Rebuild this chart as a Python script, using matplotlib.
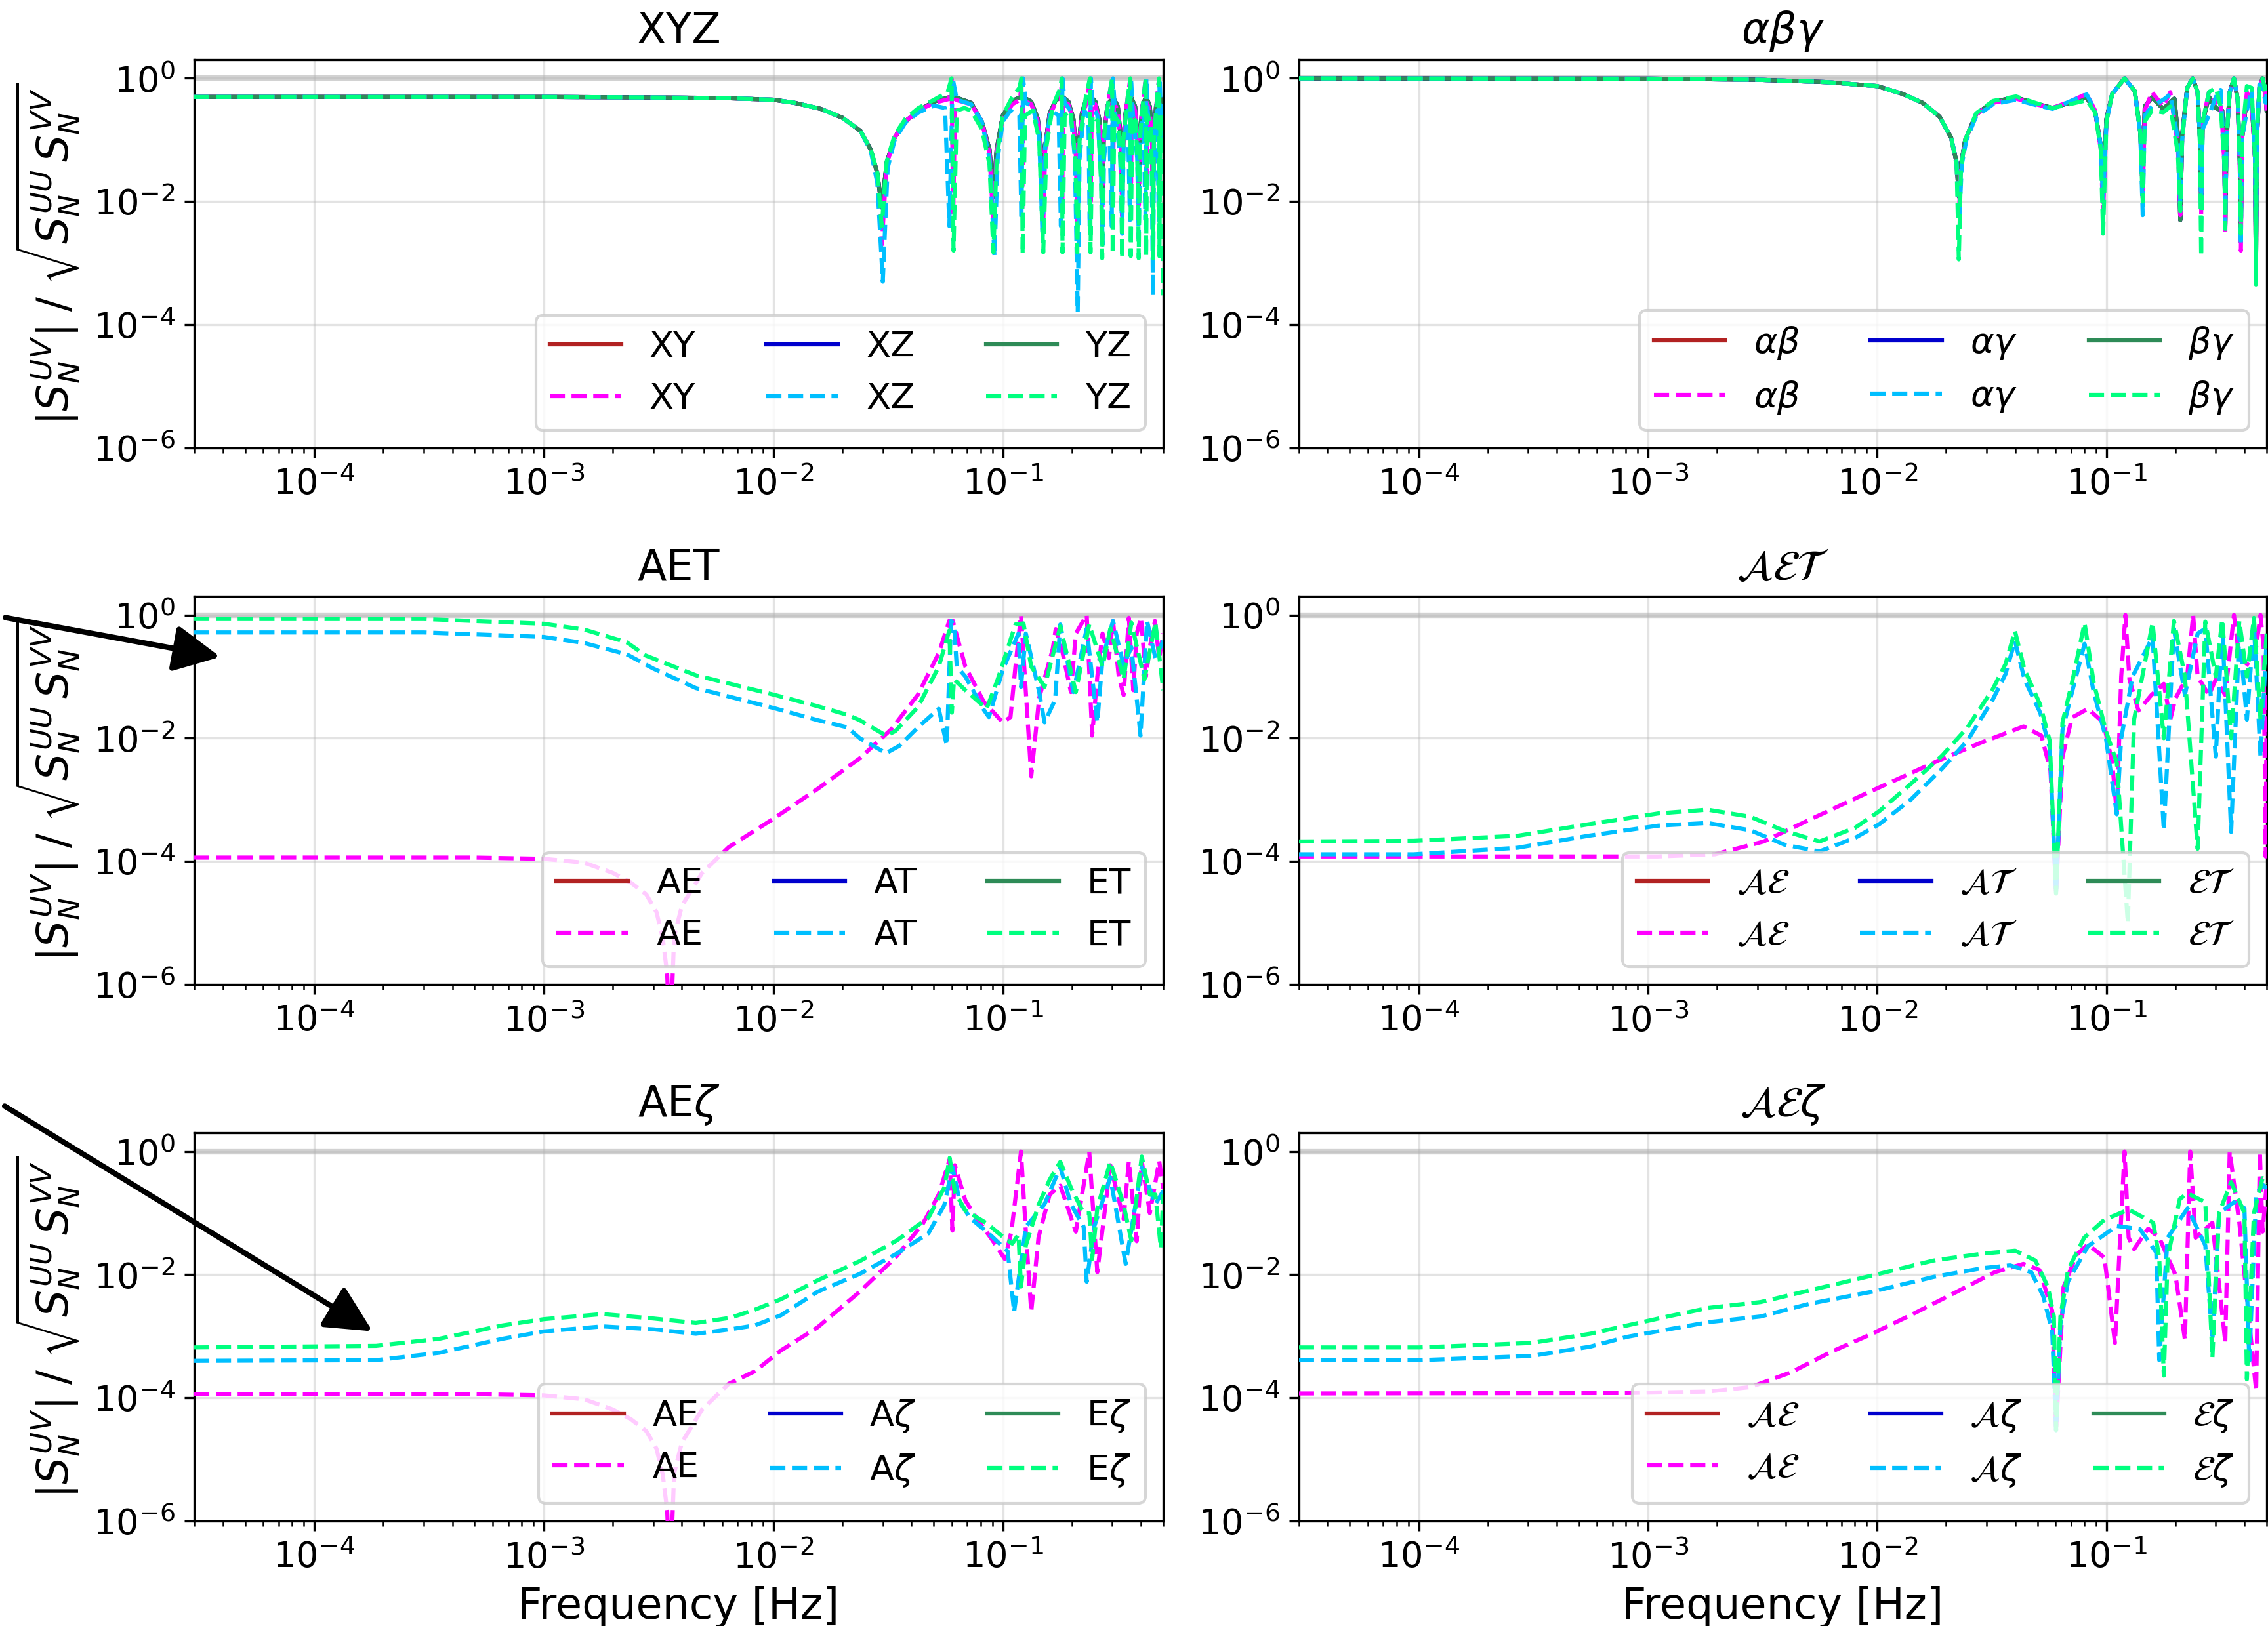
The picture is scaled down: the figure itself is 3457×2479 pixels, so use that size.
import matplotlib
matplotlib.use("Agg")
import matplotlib.pyplot as plt
from matplotlib.patches import FancyArrowPatch
from matplotlib.ticker import NullLocator

plt.rcParams.update({"font.size": 13, "font.family": ["DejaVu Sans"],
                     "mathtext.fontset": "dejavusans"})

# ---------------- data: (frequency [Hz], |S_UV|/sqrt(S_UU S_VV)) ----------------
# XYZ panel
XYZ_SOLID = [(3e-5,0.50),(1e-3,0.50),(3e-3,0.49),(6e-3,0.48),(0.010,0.45),(0.0124,0.40),(0.0161,0.32),
    (0.020,0.23),(0.024,0.14),(0.0266,0.069),(0.0284,0.029),(0.0297,0.008),(0.0312,0.043),(0.0338,0.11),
    (0.0376,0.20),(0.0429,0.30),(0.0502,0.42),(0.0605,0.51),(0.0728,0.40),(0.081,0.20),(0.0875,0.07),
    (0.091,0.012),(0.094,0.07),(0.100,0.25),(0.110,0.43),(0.121,0.51),(0.133,0.42),(0.142,0.22),(0.147,0.07),
    (0.150,0.012),(0.153,0.08),(0.160,0.27),(0.170,0.44),(0.181,0.51),(0.193,0.42),(0.203,0.22),(0.208,0.07),
    (0.211,0.012),(0.214,0.08),(0.221,0.27),(0.230,0.44),(0.241,0.51),(0.253,0.42),(0.263,0.22),(0.268,0.07),
    (0.271,0.012),(0.275,0.1),(0.285,0.35),(0.301,0.51),(0.317,0.35),(0.327,0.1),(0.331,0.015),(0.335,0.1),
    (0.345,0.35),(0.361,0.51),(0.377,0.35),(0.387,0.1),(0.391,0.015),(0.395,0.1),(0.405,0.35),(0.421,0.51),
    (0.437,0.35),(0.447,0.1),(0.451,0.015),(0.455,0.1),(0.465,0.35),(0.481,0.51),(0.495,0.42),(0.5,0.38)]
XY_DASH = [(3e-5,0.5),(1e-3,0.5),(3e-3,0.49),(6e-3,0.48),(0.010,0.45),(0.0124,0.40),(0.0161,0.32),(0.020,0.23),
    (0.024,0.14),(0.0266,0.069),(0.0284,0.025),(0.0297,0.002),(0.0312,0.04),(0.0338,0.11),(0.0376,0.20),
    (0.0429,0.30),(0.0502,0.40),(0.058,0.46),(0.0598,0.98),(0.0608,0.006),(0.062,0.45),(0.0728,0.38),
    (0.081,0.20),(0.0875,0.06),(0.091,0.004),(0.094,0.06),(0.100,0.22),(0.110,0.38),(0.119,0.45),(0.1205,0.99),
    (0.1215,0.007),(0.123,0.44),(0.133,0.38),(0.142,0.2),(0.147,0.06),(0.150,0.004),(0.153,0.07),(0.160,0.25),
    (0.170,0.40),(0.179,0.42),(0.1805,0.99),(0.1815,0.008),(0.183,0.42),(0.193,0.38),(0.203,0.2),(0.208,0.06),
    (0.211,0.004),(0.214,0.07),(0.221,0.25),(0.232,0.4),(0.2395,0.99),(0.2415,0.01),(0.244,0.4),(0.253,0.38),
    (0.263,0.2),(0.268,0.06),(0.271,0.005),(0.275,0.1),(0.285,0.33),(0.299,0.99),(0.302,0.02),(0.305,0.4),
    (0.317,0.3),(0.327,0.08),(0.331,0.005),(0.335,0.1),(0.345,0.33),(0.359,0.99),(0.362,0.02),(0.365,0.4),
    (0.377,0.3),(0.387,0.08),(0.391,0.005),(0.395,0.1),(0.405,0.33),(0.419,0.99),(0.422,0.02),(0.425,0.4),
    (0.437,0.3),(0.447,0.08),(0.451,0.005),(0.455,0.1),(0.465,0.33),(0.479,0.99),(0.482,0.02),(0.485,0.4),(0.5,0.3)]
XZ_DASH = [(3e-5,0.5),(1e-3,0.5),(3e-3,0.49),(6e-3,0.48),(0.010,0.45),(0.0124,0.40),(0.0161,0.32),(0.020,0.23),
    (0.024,0.14),(0.0266,0.066),(0.0284,0.02),(0.0300,0.0005),(0.0315,0.035),(0.0338,0.10),(0.0376,0.19),
    (0.0429,0.28),(0.0502,0.36),(0.056,0.33),(0.0585,0.004),(0.0605,1.0),(0.063,0.45),(0.0728,0.38),(0.081,0.20),
    (0.0875,0.05),(0.092,0.0013),(0.095,0.05),(0.100,0.2),(0.108,0.3),(0.118,0.25),(0.1205,0.005),(0.1225,1.0),
    (0.126,0.4),(0.135,0.35),(0.144,0.12),(0.149,0.0026),(0.153,0.08),(0.162,0.3),(0.175,0.25),(0.179,0.004),
    (0.182,1.0),(0.186,0.4),(0.197,0.3),(0.206,0.05),(0.212,0.00016),(0.216,0.05),(0.226,0.3),(0.236,0.25),
    (0.239,0.004),(0.242,1.0),(0.247,0.35),(0.258,0.25),(0.268,0.03),(0.272,0.002),(0.276,0.05),(0.29,0.3),
    (0.298,0.004),(0.302,1.0),(0.308,0.3),(0.325,0.05),(0.331,0.003),(0.336,0.08),(0.35,0.3),(0.358,0.005),
    (0.362,1.0),(0.368,0.3),(0.385,0.05),(0.391,0.0025),(0.396,0.08),(0.41,0.3),(0.418,0.005),(0.422,1.0),
    (0.428,0.3),(0.445,0.05),(0.451,0.0003),(0.456,0.08),(0.47,0.3),(0.478,0.005),(0.482,1.0),(0.488,0.3),(0.5,0.1)]
YZ_DASH = [(3e-5,0.5),(1e-3,0.5),(3e-3,0.49),(6e-3,0.48),(0.010,0.45),(0.0124,0.40),(0.0161,0.32),(0.020,0.23),
    (0.024,0.14),(0.0266,0.07),(0.0284,0.03),(0.0297,0.004),(0.0312,0.045),(0.0338,0.12),(0.0376,0.22),
    (0.0429,0.33),(0.0502,0.45),(0.0575,0.6),(0.0598,1.0),(0.061,0.0016),(0.063,0.3),(0.068,0.33),(0.0728,0.3),
    (0.081,0.15),(0.0875,0.04),(0.091,0.0015),(0.094,0.05),(0.100,0.25),(0.110,0.5),(0.118,0.7),(0.1205,1.0),
    (0.122,0.0014),(0.125,0.25),(0.135,0.3),(0.144,0.1),(0.150,0.0015),(0.155,0.08),(0.165,0.35),(0.178,0.7),
    (0.1805,1.0),(0.182,0.0015),(0.186,0.25),(0.197,0.3),(0.207,0.05),(0.211,0.0015),(0.216,0.1),(0.23,0.5),
    (0.2395,1.0),(0.241,0.0015),(0.246,0.25),(0.26,0.2),(0.268,0.02),(0.271,0.0012),(0.275,0.1),(0.29,0.5),
    (0.2995,1.0),(0.301,0.0014),(0.306,0.25),(0.32,0.2),(0.328,0.02),(0.331,0.0012),(0.335,0.1),(0.35,0.5),
    (0.3595,1.0),(0.361,0.0013),(0.366,0.25),(0.38,0.2),(0.388,0.02),(0.391,0.0012),(0.395,0.1),(0.41,0.5),
    (0.4195,1.0),(0.421,0.0013),(0.426,0.25),(0.44,0.2),(0.448,0.02),(0.451,0.0012),(0.455,0.1),(0.47,0.5),
    (0.4795,1.0),(0.481,0.0013),(0.486,0.25),(0.496,0.2),(0.5,0.0003)]

# alpha-beta-gamma panel
ABG_SOLID = [(3e-5,1.0),(1e-3,0.99),(3e-3,0.95),(6e-3,0.87),(0.010,0.75),(0.0129,0.56),(0.0158,0.40),(0.0187,0.24),
    (0.021,0.11),(0.0222,0.043),(0.0227,0.012),(0.0232,0.04),(0.0242,0.10),(0.027,0.26),(0.032,0.42),(0.0403,0.49),
    (0.049,0.39),(0.0582,0.33),(0.069,0.40),(0.082,0.49),(0.0893,0.29),(0.0945,0.08),(0.0967,0.015),(0.100,0.22),
    (0.106,0.56),(0.120,1.0),(0.133,0.62),(0.1405,0.135),(0.144,0.02),(0.147,0.35),(0.158,0.49),(0.177,0.32),
    (0.198,0.47),(0.206,0.1),(0.21,0.005),(0.214,0.12),(0.225,0.7),(0.238,1.0),(0.25,0.6),(0.256,0.1),(0.259,0.01),
    (0.263,0.2),(0.28,0.5),(0.30,0.33),(0.32,0.3),(0.327,0.05),(0.33,0.004),(0.334,0.1),(0.345,0.6),(0.36,1.0),
    (0.374,0.45),(0.383,0.03),(0.386,0.003),(0.39,0.1),(0.41,0.5),(0.43,0.45),(0.445,0.05),(0.449,0.0005),
    (0.453,0.1),(0.465,0.7),(0.48,1.0),(0.495,0.5),(0.5,0.3)]
AB_DASH = [(3e-5,1.0),(1e-3,0.99),(3e-3,0.95),(6e-3,0.87),(0.010,0.75),(0.0129,0.56),(0.0158,0.40),(0.0187,0.24),
    (0.021,0.11),(0.0222,0.04),(0.0227,0.006),(0.0232,0.035),(0.0242,0.10),(0.027,0.26),(0.032,0.40),(0.0403,0.47),
    (0.049,0.38),(0.0582,0.33),(0.069,0.42),(0.082,0.56),(0.0893,0.3),(0.0945,0.07),(0.0967,0.006),(0.100,0.2),
    (0.106,0.56),(0.120,1.0),(0.133,0.62),(0.1405,0.13),(0.144,0.01),(0.147,0.3),(0.158,0.6),(0.177,0.35),
    (0.19,0.6),(0.205,0.08),(0.21,0.006),(0.214,0.1),(0.225,0.7),(0.238,1.0),(0.25,0.6),(0.256,0.1),(0.259,0.006),
    (0.263,0.2),(0.28,0.6),(0.30,0.4),(0.315,0.5),(0.327,0.04),(0.33,0.003),(0.334,0.1),(0.345,0.6),(0.36,1.0),
    (0.374,0.45),(0.383,0.02),(0.386,0.0016),(0.39,0.1),(0.41,0.6),(0.43,0.4),(0.445,0.05),(0.449,0.001),
    (0.453,0.1),(0.465,0.7),(0.48,1.0),(0.495,0.5),(0.5,0.3)]
AG_DASH = [(3e-5,1.0),(1e-3,0.99),(3e-3,0.95),(6e-3,0.87),(0.010,0.75),(0.0129,0.56),(0.0158,0.40),(0.0187,0.24),
    (0.021,0.11),(0.0222,0.045),(0.0228,0.005),(0.0234,0.04),(0.0245,0.10),(0.027,0.24),(0.032,0.38),(0.0403,0.45),
    (0.049,0.37),(0.0582,0.32),(0.069,0.42),(0.082,0.55),(0.0893,0.3),(0.0945,0.08),(0.0967,0.01),(0.100,0.2),
    (0.106,0.56),(0.120,1.0),(0.133,0.62),(0.1405,0.13),(0.144,0.006),(0.147,0.25),(0.158,0.35),(0.177,0.45),
    (0.19,0.55),(0.205,0.1),(0.21,0.01),(0.214,0.1),(0.225,0.7),(0.238,1.0),(0.25,0.6),(0.256,0.1),(0.259,0.008),
    (0.263,0.15),(0.28,0.25),(0.30,0.5),(0.315,0.65),(0.327,0.05),(0.33,0.004),(0.334,0.1),(0.345,0.6),(0.36,1.0),
    (0.374,0.45),(0.383,0.03),(0.386,0.002),(0.39,0.1),(0.41,0.3),(0.43,0.7),(0.445,0.05),(0.449,0.001),
    (0.453,0.1),(0.465,0.8),(0.48,0.7),(0.495,0.4),(0.5,0.6)]
BG_DASH = [(3e-5,1.0),(1e-3,0.99),(3e-3,0.95),(6e-3,0.87),(0.010,0.75),(0.0129,0.56),(0.0158,0.40),(0.0187,0.24),
    (0.021,0.11),(0.0222,0.04),(0.0227,0.00115),(0.0232,0.035),(0.0242,0.10),(0.027,0.27),(0.032,0.43),
    (0.0403,0.51),(0.049,0.40),(0.0582,0.33),(0.069,0.38),(0.082,0.44),(0.0893,0.28),(0.0945,0.07),(0.0967,0.003),
    (0.100,0.2),(0.106,0.56),(0.120,1.0),(0.133,0.62),(0.1405,0.13),(0.144,0.01),(0.147,0.2),(0.158,0.3),
    (0.177,0.28),(0.19,0.35),(0.205,0.06),(0.21,0.007),(0.214,0.1),(0.225,0.7),(0.238,1.0),(0.25,0.6),(0.256,0.08),
    (0.259,0.0013),(0.263,0.2),(0.28,0.6),(0.30,0.7),(0.315,0.35),(0.327,0.04),(0.33,0.0036),(0.334,0.1),
    (0.345,0.6),(0.36,1.0),(0.374,0.45),(0.383,0.03),(0.386,0.003),(0.39,0.1),(0.41,0.75),(0.43,0.7),(0.445,0.05),
    (0.449,0.00045),(0.453,0.1),(0.465,0.7),(0.48,1.0),(0.495,0.6),(0.5,0.8)]

# AET panel
AET_AE = [(3e-5,1.15e-4),(5e-4,1.15e-4),(1e-3,1.1e-4),(1.5e-3,9.5e-5),(2e-3,6.5e-5),(2.4e-3,4.5e-5),(2.8e-3,2.9e-5),
    (3.1e-3,1.5e-5),(3.3e-3,5.7e-6),(3.45e-3,1.5e-6),(3.55e-3,1e-7),(3.7e-3,6e-6),(4.0e-3,1.9e-5),(4.9e-3,6.5e-5),
    (6.4e-3,1.7e-4),(0.010,4.9e-4),(0.0156,1.5e-3),(0.0238,4.7e-3),(0.0327,0.014),(0.0427,0.051),(0.0526,0.24),
    (0.0585,0.81),(0.0605,0.81),(0.0687,0.145),(0.0826,0.039),(0.1,0.018),(0.108,0.022),(0.1135,0.145),(0.12,1.0),
    (0.126,0.056),(0.133,0.0024),(0.144,0.045),(0.165,0.28),(0.17,0.59),(0.18,0.3),(0.198,0.056),(0.208,0.5),
    (0.232,1.0),(0.245,0.011),(0.258,0.1),(0.272,0.5),(0.29,0.2),(0.302,0.8),(0.32,0.1),(0.336,0.05),(0.354,0.9),
    (0.37,0.06),(0.383,0.5),(0.40,0.9),(0.42,0.1),(0.437,0.3),(0.46,0.8),(0.48,0.2),(0.5,0.5)]
AET_AT = [(3e-5,0.52),(3e-4,0.52),(1e-3,0.44),(1.5e-3,0.35),(2.3e-3,0.23),(3e-3,0.135),(4.6e-3,0.065),(0.010,0.031),
    (0.0156,0.0196),(0.021,0.015),(0.0238,0.01),(0.031,0.0057),(0.0354,0.0075),(0.0427,0.015),(0.0526,0.03),
    (0.057,0.0076),(0.0595,0.8),(0.0613,0.7),(0.063,0.145),(0.0687,0.1),(0.0826,0.029),(0.087,0.022),(0.1,0.13),
    (0.117,0.5),(0.12,0.068),(0.126,0.5),(0.144,0.056),(0.152,0.018),(0.169,0.042),(0.178,0.7),(0.203,0.056),
    (0.232,0.6),(0.258,0.018),(0.272,0.2),(0.302,0.8),(0.336,0.15),(0.363,0.3),(0.398,0.011),(0.425,0.8),
    (0.462,0.2),(0.5,0.38)]
AET_ET = [(3e-5,0.86),(3e-4,0.86),(1e-3,0.72),(1.5e-3,0.58),(2.3e-3,0.36),(2.78e-3,0.22),(4.6e-3,0.105),(0.010,0.051),
    (0.0156,0.033),(0.021,0.024),(0.0238,0.0196),(0.031,0.011),(0.034,0.013),(0.0427,0.032),(0.0526,0.145),
    (0.0585,0.56),(0.06,0.026),(0.0613,0.09),(0.0687,0.06),(0.085,0.03),(0.095,0.09),(0.1135,0.7),(0.123,0.73),
    (0.133,0.145),(0.152,0.068),(0.178,0.65),(0.208,0.056),(0.238,0.7),(0.272,0.145),(0.294,0.6),(0.336,0.09),
    (0.363,0.75),(0.414,0.09),(0.462,0.75),(0.5,0.06)]

# calligraphic AET panel
CAL_AE = [(3e-5,1.2e-4),(5e-4,1.2e-4),(1.1e-3,1.2e-4),(1.96e-3,1.3e-4),(3.2e-3,2.1e-4),(4.6e-3,4e-4),(9.2e-3,1.33e-3),
    (0.0187,4.4e-3),(0.0285,8.5e-3),(0.0435,0.0155),(0.052,0.011),(0.057,0.003),(0.0603,3e-5),(0.0643,0.005),
    (0.0708,0.0216),(0.083,0.03),(0.097,0.018),(0.106,0.004),(0.111,0.0006),(0.116,0.1),(0.121,1.0),(0.126,0.09),
    (0.138,0.028),(0.157,0.05),(0.178,0.076),(0.19,0.02),(0.2,0.044),(0.225,0.1),(0.239,1.0),(0.25,0.1),(0.28,0.05),
    (0.30,0.09),(0.33,0.05),(0.36,1.0),(0.38,0.2),(0.42,0.15),(0.45,0.3),(0.47,1.0),(0.485,0.3),(0.495,1.2e-4),
    (0.5,0.05)]
CAL_AT = [(3e-5,1.3e-4),(9.5e-5,1.3e-4),(2.7e-4,1.66e-4),(5.5e-4,2.6e-4),(1.11e-3,3.8e-4),(1.82e-3,4.2e-4),
    (2.79e-3,3.2e-4),(3.96e-3,1.85e-4),(5.6e-3,1.45e-4),(8e-3,2.4e-4),(0.0102,4e-4),(0.014,1e-3),(0.0192,3.2e-3),
    (0.0248,9.2e-3),(0.0319,0.042),(0.0363,0.11),(0.0399,0.38),(0.0439,0.09),(0.0514,0.026),(0.0566,0.0069),
    (0.0603,3e-5),(0.0643,0.0135),(0.0708,0.056),(0.0803,0.34),(0.088,0.056),(0.0995,0.01),(0.111,5.8e-4),
    (0.116,0.01),(0.13,0.1),(0.159,0.44),(0.178,3.2e-4),(0.197,0.6),(0.22,0.05),(0.25,0.5),(0.27,0.6),(0.30,0.005),
    (0.32,0.7),(0.35,3e-4),(0.38,0.5),(0.41,0.02),(0.44,0.7),(0.47,0.005),(0.5,0.4)]
CAL_ET = [(3e-5,2.1e-4),(9.5e-5,2.15e-4),(2.7e-4,2.6e-4),(5.5e-4,4e-4),(1.11e-3,6e-4),(1.82e-3,6.9e-4),(2.79e-3,5.3e-4),
    (3.96e-3,3.1e-4),(5.6e-3,2.1e-4),(8e-3,3.5e-4),(0.0102,6.5e-4),(0.014,1.8e-3),(0.0192,5.2e-3),(0.0248,0.015),
    (0.0319,0.062),(0.0363,0.16),(0.0399,0.55),(0.0439,0.13),(0.0514,0.035),(0.0566,0.009),(0.0603,3e-5),
    (0.0643,0.018),(0.0708,0.08),(0.0803,0.74),(0.088,0.08),(0.0995,0.013),(0.111,0.004),(0.124,1e-5),(0.132,0.02),
    (0.159,0.75),(0.178,0.01),(0.197,0.8),(0.22,0.1),(0.25,1.6e-4),(0.27,0.78),(0.30,0.1),(0.32,0.85),(0.35,0.01),
    (0.38,0.8),(0.41,0.1),(0.44,0.9),(0.47,0.02),(0.5,0.5)]

# AE-zeta panel
AEZ_AE = [(3e-5,1.15e-4),(5e-4,1.15e-4),(1e-3,1.1e-4),(1.5e-3,9.5e-5),(2e-3,6.5e-5),(2.4e-3,4.5e-5),(2.8e-3,2.9e-5),
    (3.1e-3,1.5e-5),(3.3e-3,5.7e-6),(3.45e-3,1.5e-6),(3.55e-3,1e-7),(3.7e-3,6e-6),(4.0e-3,1.9e-5),(4.9e-3,6.5e-5),
    (6.4e-3,1.7e-4),(8.3e-3,2.7e-4),(0.0108,5.9e-4),(0.0156,1.4e-3),(0.0238,5.3e-3),(0.0345,0.02),(0.045,0.069),
    (0.0526,0.2),(0.0587,0.75),(0.0603,0.052),(0.0618,0.6),(0.0687,0.16),(0.078,0.076),(0.089,0.039),(0.102,0.018),
    (0.109,0.05),(0.12,1.0),(0.126,0.05),(0.133,0.0025),(0.143,0.04),(0.16,0.2),(0.178,0.28),(0.208,0.05),
    (0.238,0.99),(0.258,0.011),(0.294,0.6),(0.336,0.08),(0.354,0.7),(0.383,0.035),(0.403,0.7),(0.437,0.1),
    (0.48,0.7),(0.5,0.25)]
AEZ_AZ = [(3e-5,4e-4),(1.86e-4,4.1e-4),(3.5e-4,5.4e-4),(6.6e-4,9.1e-4),(1e-3,1.2e-3),(1.8e-3,1.45e-3),(3e-3,1.3e-3),
    (4.6e-3,1.1e-3),(6.5e-3,1.3e-3),(0.0083,1.5e-3),(0.0108,2.2e-3),(0.0156,5.3e-3),(0.0238,0.0103),(0.0345,0.022),
    (0.0474,0.047),(0.0556,0.135),(0.0603,0.56),(0.065,0.15),(0.072,0.084),(0.089,0.043),(0.105,0.024),(0.112,0.0025),
    (0.126,0.06),(0.152,0.14),(0.178,0.56),(0.198,0.14),(0.225,0.06),(0.232,0.0077),(0.25,0.06),(0.294,0.38),
    (0.343,0.015),(0.403,0.56),(0.462,0.14),(0.5,0.23)]
AEZ_EZ = [(3e-5,6.6e-4),(1.86e-4,7e-4),(3.5e-4,9.1e-4),(6.6e-4,1.5e-3),(1e-3,1.9e-3),(1.8e-3,2.3e-3),(3e-3,1.95e-3),
    (4.6e-3,1.65e-3),(6.5e-3,2e-3),(0.0083,2.7e-3),(0.0108,4e-3),(0.0156,8.1e-3),(0.0238,0.0166),(0.0345,0.036),
    (0.0474,0.084),(0.0556,0.26),(0.0587,0.79),(0.0618,0.22),(0.0687,0.11),(0.0848,0.069),(0.102,0.039),(0.11,0.032),
    (0.117,0.045),(0.12,0.0064),(0.126,0.03),(0.143,0.135),(0.16,0.35),(0.178,0.68),(0.198,0.26),(0.225,0.1),
    (0.238,0.1),(0.245,0.018),(0.258,0.12),(0.294,0.68),(0.336,0.135),(0.363,0.036),(0.403,0.83),(0.437,0.2),
    (0.462,0.2),(0.488,0.027),(0.5,0.2)]

# calligraphic AE-zeta panel
CALZ_AE = [(3e-5,1.18e-4),(8.1e-4,1.2e-4),(1.84e-3,1.27e-4),(2.8e-3,1.5e-4),(4.2e-3,2.6e-4),(6.3e-3,5.6e-4),
    (9.5e-3,1.1e-3),(0.0143,2.3e-3),(0.0216,5e-3),(0.0326,0.011),(0.0434,0.015),(0.051,0.012),(0.058,0.0026),
    (0.0603,3e-5),(0.065,0.0063),(0.074,0.021),(0.083,0.031),(0.098,0.019),(0.109,7.8e-4),(0.115,0.046),(0.12,1.0),
    (0.125,0.04),(0.132,0.026),(0.152,0.056),(0.17,0.04),(0.20,0.01),(0.22,8.8e-4),(0.232,1.0),(0.245,0.04),
    (0.29,0.07),(0.33,8e-4),(0.345,1.0),(0.38,0.07),(0.45,1.3e-4),(0.467,1.0),(0.48,0.05),(0.5,0.3)]
CALZ_AZ = [(3e-5,4.1e-4),(1e-4,4.1e-4),(3.1e-4,4.8e-4),(5.6e-4,6.8e-4),(8.1e-4,9.8e-4),(1.84e-3,1.7e-3),(3.1e-3,2.1e-3),
    (5.1e-3,3.4e-3),(9.5e-3,5.3e-3),(0.0176,9.2e-3),(0.0288,0.0128),(0.038,0.0142),(0.047,0.011),(0.053,4.5e-3),
    (0.058,1.2e-3),(0.0603,3e-5),(0.063,1.6e-3),(0.068,7.8e-3),(0.083,0.029),(0.111,0.062),(0.14,0.055),
    (0.165,0.023),(0.17,4.1e-4),(0.185,0.04),(0.226,0.12),(0.27,0.03),(0.29,8.7e-4),(0.31,0.1),(0.36,0.15),
    (0.40,0.12),(0.42,4e-4),(0.45,0.2),(0.48,0.29),(0.5,0.25)]
CALZ_EZ = [(3e-5,6.6e-4),(1e-4,6.6e-4),(3.1e-4,7.8e-4),(5.6e-4,1.1e-3),(8.1e-4,1.5e-3),(1.22e-3,2.1e-3),(1.84e-3,2.9e-3),
    (3.1e-3,3.6e-3),(5.1e-3,5.6e-3),(9.5e-3,9.7e-3),(0.0176,0.017),(0.0288,0.022),(0.04,0.0246),(0.049,0.017),
    (0.0556,6.3e-3),(0.059,2.1e-3),(0.0603,3e-5),(0.063,2.1e-3),(0.068,0.012),(0.08,0.04),(0.098,0.078),
    (0.125,0.114),(0.16,0.07),(0.17,0.019),(0.178,2.3e-4),(0.185,0.019),(0.209,0.17),(0.226,0.21),(0.27,0.15),
    (0.29,4.5e-4),(0.31,0.1),(0.35,0.32),(0.40,0.1),(0.41,2e-4),(0.44,0.1),(0.48,0.37),(0.5,0.3)]

TITLES = ["XYZ", r"$\alpha\beta\gamma$", "AET", r"$\mathcal{AET}$", r"AE$\zeta$", r"$\mathcal{AE}\zeta$"]
LABELS = [["XY", "XZ", "YZ"],
          [r"$\alpha\beta$", r"$\alpha\gamma$", r"$\beta\gamma$"],
          ["AE", "AT", "ET"],
          [r"$\mathcal{AE}$", r"$\mathcal{AT}$", r"$\mathcal{ET}$"],
          ["AE", r"A$\zeta$", r"E$\zeta$"],
          [r"$\mathcal{AE}$", r"$\mathcal{A}\zeta$", r"$\mathcal{E}\zeta$"]]
SOLIDS = [[XYZ_SOLID] * 3, [ABG_SOLID] * 3, [[], [], []], [[], [], []], [[], [], []], [[], [], []]]
DASHES = [[XY_DASH, XZ_DASH, YZ_DASH], [AB_DASH, AG_DASH, BG_DASH], [AET_AE, AET_AT, AET_ET],
          [CAL_AE, CAL_AT, CAL_ET], [AEZ_AE, AEZ_AZ, AEZ_EZ], [CALZ_AE, CALZ_AZ, CALZ_EZ]]

SOLID_COLORS = ["firebrick", "mediumblue", "seagreen"]
DASH_COLORS = ["magenta", "deepskyblue", "springgreen"]
YLABEL = r"$|S_N^{UV}|\;/\;\sqrt{S_N^{UU}\,S_N^{VV}}$"

fig = plt.figure(figsize=(3457 / 300, 2479 / 300), dpi=300)
lefts = [0.0856, 0.5727]
widths = [0.5129 - 0.0856, 0.9994 - 0.5727]
bottoms = [0.7245, 0.3945, 0.0645]
height = 0.2387


def split(pairs):
    return [p[0] for p in pairs], [p[1] for p in pairs]


for i in range(6):
    row, col = divmod(i, 2)
    ax = fig.add_axes([lefts[col], bottoms[row], widths[col], height])
    ax.set_xscale("log")
    ax.set_yscale("log")
    ax.axhline(1.0, color="gray", alpha=0.35, lw=2.0, zorder=1)
    solid_lines = []
    for data, c in zip(SOLIDS[i], SOLID_COLORS):
        f, v = split(data)
        solid_lines.append(ax.plot(f, v, color=c, lw=1.5, zorder=2)[0])
    dash_lines = []
    for data, c in zip(DASHES[i], DASH_COLORS):
        f, v = split(data)
        dash_lines.append(ax.plot(f, v, color=c, lw=1.5, ls="--", zorder=3)[0])
    handles, labels = [], []
    for k in range(3):
        handles += [solid_lines[k], dash_lines[k]]
        labels += [LABELS[i][k], LABELS[i][k]]
    ax.legend(handles, labels, ncol=3, loc="lower right")
    ax.set_xlim(3e-5, 0.5)
    ax.set_ylim(1e-6, 2.0)
    ax.set_yticks([1e0, 1e-2, 1e-4, 1e-6])
    ax.yaxis.set_minor_locator(NullLocator())
    ax.set_xticks([1e-4, 1e-3, 1e-2, 1e-1])
    ax.grid(True, which="major", alpha=0.35)
    ax.set_title(TITLES[i], fontsize=15.6)
    if col == 0:
        ax.set_ylabel(YLABEL, fontsize=15.6)
    if row == 2:
        ax.set_xlabel("Frequency [Hz]", fontsize=15.6)

# hand-drawn style annotation arrows
for start, end in [((0.0, 0.6208), (0.0995, 0.5954)), ((0.0, 0.3215), (0.1663, 0.1795))]:
    arr = FancyArrowPatch(start, end, transform=fig.transFigure, arrowstyle="-|>",
                          mutation_scale=36, color="black", lw=2.0)
    fig.add_artist(arr)

fig.savefig("out.png", dpi=300)
